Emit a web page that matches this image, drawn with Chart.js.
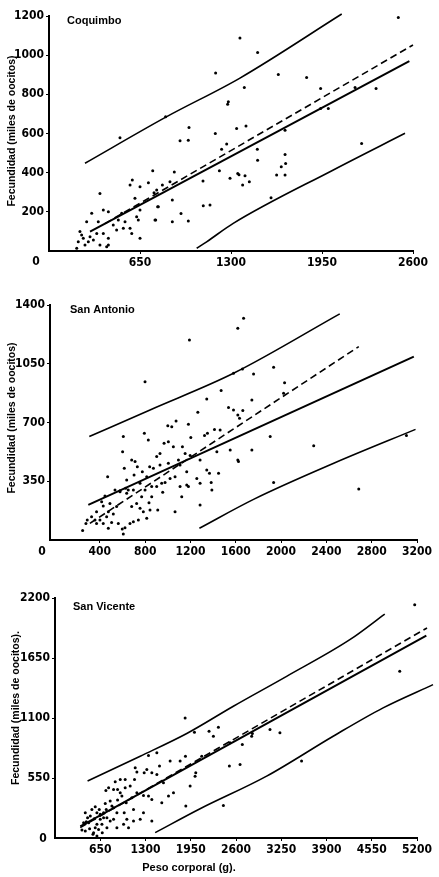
<!DOCTYPE html>
<html><head><meta charset="utf-8">
<script src="https://cdn.jsdelivr.net/npm/chart.js@4.4.1/dist/chart.umd.min.js"></script>
<style>
html,body{margin:0;padding:0;background:#fff;}
#wrap{position:relative;width:439px;height:877px;overflow:hidden;background:#fff;}
canvas{position:absolute;left:0;}
</style></head><body>
<div id="wrap">
<canvas id="c1" width="439" height="290" style="top:0"></canvas>
<canvas id="c2" width="439" height="290" style="top:290px"></canvas>
<canvas id="c3" width="439" height="297" style="top:580px"></canvas>
</div>
<script>
// ---------- DATA ----------
const panelNames = ["Coquimbo", "San Antonio", "San Vicente"];
const yTitle = "Fecundidad (miles de oocitos)";
const xTitle = "Peso corporal (g).";

// Coquimbo
const coqXTicks = [650, 1300, 1950, 2600];
const coqYTicks = [200, 400, 600, 800, 1000, 1200];
const coqPoints = [
 [2495,1192],[1364,1088],[1490,1013],[1190,909],[1638,901],[1840,886],[1940,830],[1395,835],[2186,835],[2336,830],
 [1281,762],[1276,750],[1940,728],[1995,728],[833,685],[507,578],[995,566],[936,563],[1000,631],[1340,626],
 [1407,638],[1188,600],[1686,617],[1269,546],[1233,520],[1488,520],[2233,549],[741,410],[895,403],[1217,410],
 [1100,357],[1293,371],[1348,396],[1357,389],[1383,337],[1400,384],[1431,354],[1490,464],[1686,493],[1690,447],
 [1659,430],[1626,388],[1686,388],[1586,272],[1102,231],[1150,235],[881,260],[776,226],[943,192],[995,153],
 [881,150],[762,158],[810,337],[710,348],[750,298],[769,311],[864,354],
 [364,294],[305,193],[388,209],[424,201],[269,150],[352,150],[519,193],[495,158],[543,150],[459,133],
 [483,107],[531,116],[579,116],[591,90],[650,65],[626,175],[638,158],[650,209],[614,269],[579,337],
 [650,328],[595,362],[341,90],[388,90],[424,65],[424,31],[412,22],[364,31],[257,31],[198,14],[209,47],
 [245,65],[233,82],[221,99],[293,73],[281,47],[317,56],[757,158],[781,226]
];
const coqUpper  = [[257,448],[841,686],[1364,883],[2091,1210]];
const coqFit    = [[293,99],[2574,970]];
const coqDashed = [[400,140],[2600,1052]];
const coqLower  = [[1055,14],[1126,47],[1316,141],[2031,414],[2543,601]];

// San Antonio
const antXTicks = [400, 800, 1200, 1600, 2000, 2400, 2800, 3200];
const antYTicks = [350, 700, 1050, 1400];
const antPoints = [
 [2886,1430],[1669,1321],[1618,1261],[1191,1192],[799,943],[1580,993],[1659,1019],[1757,989],[1934,1029],[2031,937],
 [2022,874],[1471,890],[1344,840],[1742,834],[1536,790],[1580,775],[1662,771],[1618,745],[1633,725],[1265,761],
 [1182,689],[1073,709],[1000,681],[1035,675],[793,636],[828,596],[1324,622],[1203,610],[1350,636],[1412,659],
 [1462,655],[1904,616],[2288,562],[3107,622],[2686,304],[1934,342],[1551,536],[1742,536],[1618,477],[1624,467],
 [1433,526],[1285,477],[1448,397],[1368,397],[1383,342],[1285,338],[1285,209],[1182,318],[1123,258],[1064,169],
 [911,179],[976,342],[955,284],[858,258],[834,222],[814,129],[740,119],[696,109],[622,73],[607,36],
 [598,66],[475,169],[469,377],[601,526],[607,616],[681,477],[711,467],[731,437],[702,387],[775,407],
 [840,437],[902,497],[931,516],[967,576],[1005,586],[1049,556],[1129,556],[1153,516],[1197,503],[1108,447],
 [1167,407],[1094,477],[1005,457],[931,447],[873,427],[814,377],[755,338],[696,298],[637,278],[578,288],
 [548,199],[519,155],[460,139],[401,119],[371,99],[277,99],[248,56],[289,119],[357,119],[416,228],
 [430,203],[489,218],[578,294],[628,308],[651,298],[681,199],[725,218],[769,258],[799,298],[858,318],
 [902,318],[946,338],[1020,367],[1064,377],[1108,318],[1167,328],[1256,367],[1344,417],[1389,298],[637,357],
 [616,427],[534,298],[445,262],[371,169],[327,139],[504,105],[563,99],[430,99],[475,70],[666,99],
 [755,189],[784,169],[843,179]
];
const antUpper  = [[307,616],[843,775],[1580,993],[2518,1347]];
const antFit    = [[298,209],[3172,1092]];
const antDashed = [[312,99],[2686,1152]];
const antLower  = [[1279,70],[1757,242],[2465,457],[3187,659]];

// San Vicente
const vicXTicks = [650, 1300, 1950, 2600, 3250, 3900, 4550, 5200];
const vicYTicks = [550, 1100, 1650, 2200];
const vicPoints = [
 [5167,2138],[4952,1528],[3542,705],[2419,299],[2505,659],[2658,674],[2691,857],[2825,933],[2835,958],[3088,994],
 [3231,964],[2514,872],[2213,979],[2347,1016],[2275,933],[2108,750],[2003,970],[1869,1101],[1874,750],[2012,567],
 [2022,598],[1941,476],[1879,293],[1797,705],[1654,705],[1501,659],[1463,583],[1391,598],[1558,506],[1630,384],
 [1702,415],[1534,323],[1343,756],[1319,628],[1281,598],[1463,781],[1176,604],[1142,537],[1152,644],[1080,476],
 [1008,537],[1176,415],[1271,390],[1343,384],[1391,354],[1391,155],[1271,232],[1224,171],[1056,95],[1128,262],
 [1023,323],[961,384],[899,445],[865,515],[770,461],[731,436],[793,339],[841,278],[889,232],[994,232],
 [1032,171],[899,348],[937,415],[817,293],[736,262],[698,232],[650,171],[602,125],[578,95],[554,49],
 [626,79],[674,125],[746,95],[530,262],[602,232],[650,217],[698,186],[746,186],[793,155],[841,171],
 [507,201],[468,186],[435,232],[411,140],[387,73],[435,64],[497,85],[679,49],[889,95],[449,149],
 [564,177],[483,140],[636,262],[578,287],[722,317],[985,125],[1128,155],[545,34],[602,18],[1008,461],
 [1104,369],[937,537],[841,445]
];
const vicUpper  = [[468,522],[1224,750],[1893,958],[2562,1208],[3327,1482],[4235,1818],[4737,2053]];
const vicFit    = [[363,107],[5334,1854]];
const vicDashed = [[363,95],[5344,1925]];
const vicLower  = [[1439,49],[2084,268],[3040,567],[3996,933],[4713,1193],[5430,1406]];

// ---------- DRAWING ----------
const tickFont = {family:"'Liberation Sans Narrow','DejaVu Sans Condensed','Liberation Sans',sans-serif", size:12, weight:'bold'};
const textFamily = "'Liberation Sans','Arial',sans-serif";

const textPlugin = {
  id:'panelText',
  afterDraw(chart, args, opts){
    const ctx = chart.ctx;
    ctx.save();
    ctx.fillStyle = '#000';
    (opts.items||[]).forEach(t=>{
      ctx.save();
      ctx.font = t.font;
      ctx.textAlign = t.align || 'left';
      ctx.textBaseline = 'middle';
      ctx.translate(t.x, t.y);
      if (t.rotate) ctx.rotate(t.rotate);
      ctx.fillText(t.text, 0, 0);
      ctx.restore();
    });
    ctx.restore();
  }
};

function lineDS(pts, width, dash, tension){
  return {data: pts.map(p=>({x:p[0],y:p[1]})), showLine:true, pointRadius:0, borderColor:'#000',
          backgroundColor:'#000', borderWidth:width, borderDash:dash, fill:false, tension:tension||0,
          cubicInterpolationMode: tension ? 'monotone' : 'default', clip:false};
}

function makePanel(id, c){
  new Chart(document.getElementById(id), {
    type:'scatter',
    data:{datasets:[
      {data:c.points.map(p=>({x:p[0],y:p[1]})), pointRadius:1.5, pointBackgroundColor:'#000',
       pointBorderWidth:0, showLine:false, clip:false},
      lineDS(c.upper, 1.6, [], 0.4),
      lineDS(c.fit, 2, []),
      lineDS(c.dashed, 1.6, [7,4]),
      lineDS(c.lower, 1.6, [], 0.4)
    ]},
    options:{
      responsive:false, animation:false, events:[],
      layout:{padding:{left:0, right:439-c.right, top:c.top, bottom:0}},
      plugins:{legend:{display:false}, tooltip:{enabled:false}, panelText:{items:c.texts}},
      scales:{
        x:{type:'linear', min:c.xMin, max:c.xMax,
           afterBuildTicks:s=>{s.ticks=c.xTicks.map(v=>({value:v}));},
           afterFit:s=>{s.height=c.h-c.bottom;},
           grid:{drawOnChartArea:false, drawTicks:true, tickLength:3, color:'#000', lineWidth:1},
           border:{display:true, color:'#000', width:2},
           ticks:{color:'#000', font:tickFont, padding:2, maxRotation:0, autoSkip:false, callback:v=>String(v)}},
        y:{type:'linear', min:0, max:c.yMax,
           afterBuildTicks:s=>{s.ticks=c.yTicks.map(v=>({value:v}));},
           afterFit:s=>{s.width=c.left;},
           grid:{drawOnChartArea:false, drawTicks:true, tickLength:3, color:'#000', lineWidth:1},
           border:{display:true, color:'#000', width:2},
           ticks:{color:'#000', font:tickFont, padding:2, autoSkip:false, callback:v=>String(v)}}
      }
    },
    plugins:[textPlugin]
  });
}

const titleFont = "bold 11px " + textFamily;
const axisFont = "bold 10.5px " + textFamily;

makePanel('c1', {h:290, left:49, right:413, top:16, bottom:251, xMin:0, xMax:2600, yMax:1200,
  xTicks:coqXTicks, yTicks:coqYTicks, points:coqPoints, upper:coqUpper, fit:coqFit, dashed:coqDashed, lower:coqLower,
  texts:[
    {text:panelNames[0], x:67, y:21, font:titleFont},
    {text:'0', x:36, y:262, font:"bold 12px 'Liberation Sans Narrow','DejaVu Sans Condensed',sans-serif", align:'center'},
    {text:yTitle, x:12, y:131, font:axisFont, align:'center', rotate:-Math.PI/2}
  ]});

makePanel('c2', {h:290, left:50, right:417, top:15, bottom:250, xMin:-40, xMax:3200, yMax:1400,
  xTicks:antXTicks, yTicks:antYTicks, points:antPoints, upper:antUpper, fit:antFit, dashed:antDashed, lower:antLower,
  texts:[
    {text:panelNames[1], x:70, y:20, font:titleFont},
    {text:'0', x:42, y:262, font:"bold 12px 'Liberation Sans Narrow','DejaVu Sans Condensed',sans-serif", align:'center'},
    {text:yTitle, x:12, y:128, font:axisFont, align:'center', rotate:-Math.PI/2}
  ]});

makePanel('c3', {h:297, left:55, right:417, top:18, bottom:258, xMin:0, xMax:5200, yMax:2200,
  xTicks:vicXTicks, yTicks:vicYTicks, points:vicPoints, upper:vicUpper, fit:vicFit, dashed:vicDashed, lower:vicLower,
  texts:[
    {text:panelNames[2], x:73, y:27, font:titleFont},
    {text:'0', x:43, y:259, font:"bold 12px 'Liberation Sans Narrow','DejaVu Sans Condensed',sans-serif", align:'center'},
    {text:yTitle + '.', x:16, y:128, font:axisFont, align:'center', rotate:-Math.PI/2},
    {text:xTitle, x:189, y:288, font:"bold 11px " + textFamily, align:'center'}
  ]});
</script>
</body></html>
